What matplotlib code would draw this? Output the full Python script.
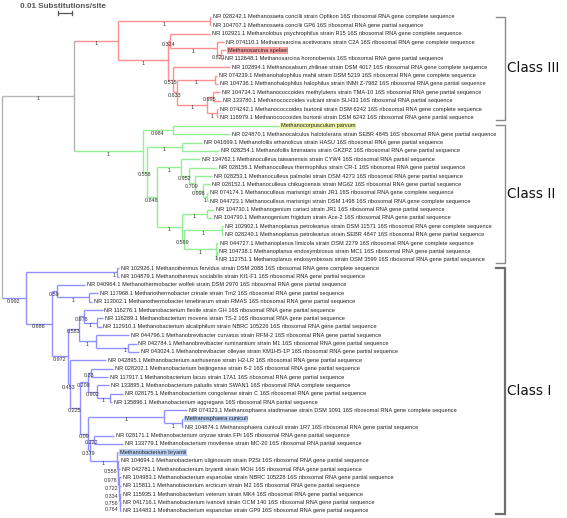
import matplotlib
matplotlib.use("Agg")
import matplotlib.pyplot as plt

# ---------------- data ----------------
# depths are distances from the root in 0.001 substitutions/site
LEAF_LABELS = [
    "NR 028242.1 Methanosaeta concilii strain Opfikon 16S ribosomal RNA gene complete sequence",
    "NR 104707.1 Methanosaeta concilii GP6 16S ribosomal RNA gene partial sequence",
    "NR 102921.1 Methanolobus psychrophilus strain R15 16S ribosomal RNA gene complete sequence",
    "NR 074110.1 Methanosarcina acetivorans strain C2A 16S ribosomal RNA gene complete sequence",
    "Methanosarcina spelaei",
    "NR 112648.1 Methanosarcina horonobensis 16S ribosomal RNA gene partial sequence",
    "NR 102894.1 Methanosalsum zhilinae strain DSM 4017 16S ribosomal RNA gene complete sequence",
    "NR 074239.1 Methanohalophilus mahii strain DSM 5219 16S ribosomal RNA gene complete sequence",
    "NR 104736.1 Methanohalophilus halophilus strain INMI Z-7982 16S ribosomal RNA gene partial sequence",
    "NR 104734.1 Methanococcoides methylutens strain TMA-10 16S ribosomal RNA gene partial sequence",
    "NR 133780.1 Methanococcoides vulcani strain SLH33 16S ribosomal RNA partial sequence",
    "NR 074242.1 Methanococcoides burtonii strain DSM 6242 16S ribosomal RNA gene complete sequence",
    "NR 118979.1 Methanococcoides burtonii strain DSM 6242 16S ribosomal RNA gene partial sequence",
    "Methanocorpusculum parvum",
    "NR 024870.1 Methanocalculus halotolerans strain SEBR 4845 16S ribosomal RNA gene partial sequence",
    "NR 041669.1 Methanofollis ethanolicus strain HASU 16S ribosomal RNA gene partial sequence",
    "NR 028254.1 Methanofollis liminatans strain GKZPZ 16S ribosomal RNA gene partial sequence",
    "NR 134762.1 Methanoculleus taiwanensis strain CYW4 16S ribosomal RNA partial sequence",
    "NR 028156.1 Methanoculleus thermophilus strain CR-1 16S ribosomal RNA gene partial sequence",
    "NR 028253.1 Methanoculleus palmolei strain DSM 4273 16S ribosomal RNA gene partial sequence",
    "NR 028152.1 Methanoculleus chikugoensis strain MG62 16S ribosomal RNA gene partial sequence",
    "NR 074174.1 Methanoculleus marisnigri strain JR1 16S ribosomal RNA gene complete sequence",
    "NR 044723.1 Methanoculleus marisnigri strain DSM 1498 16S ribosomal RNA gene complete sequence",
    "NR 104730.1 Methanogenium cariaci strain JR1 16S ribosomal RNA gene partial sequence",
    "NR 104790.1 Methanogenium frigidum strain Ace-2 16S ribosomal RNA gene partial sequence",
    "NR 102902.1 Methanoplanus petrolearius strain DSM 11571 16S ribosomal RNA gene complete sequence",
    "NR 028240.1 Methanoplanus petrolearius strain SEBR 4847 16S ribosomal RNA gene partial sequence",
    "NR 044727.1 Methanoplanus limicola strain DSM 2279 16S ribosomal RNA gene complete sequence",
    "NR 104738.1 Methanoplanus endosymbiosus strain MC1 16S ribosomal RNA gene partial sequence",
    "NR 112751.1 Methanoplanus endosymbiosus strain DSM 3599 16S ribosomal RNA gene partial sequence",
    "NR 102926.1 Methanothermus fervidus strain DSM 2088 16S ribosomal RNA gene complete sequence",
    "NR 104879.1 Methanothermus sociabilis strain Kf1-F1 16S ribosomal RNA gene partial sequence",
    "NR 040964.1 Methanothermobacter wolfeii strain DSM 2970 16S ribosomal RNA gene partial sequence",
    "NR 117968.1 Methanothermobacter crinale strain Tm2 16S ribosomal RNA gene partial sequence",
    "NR 113002.1 Methanothermobacter tenebrarum strain RMAS 16S ribosomal RNA gene partial sequence",
    "NR 116276.1 Methanobacterium flexile strain GH 16S ribosomal RNA gene partial sequence",
    "NR 116289.1 Methanobacterium movens strain TS-2 16S ribosomal RNA gene partial sequence",
    "NR 112910.1 Methanobacterium alcaliphilum strain NBRC 105226 16S ribosomal RNA gene partial sequence",
    "NR 044796.1 Methanobrevibacter curvatus strain RFM-2 16S ribosomal RNA gene partial sequence",
    "NR 042784.1 Methanobrevibacter ruminantium strain M1 16S ribosomal RNA gene partial sequence",
    "NR 043024.1 Methanobrevibacter olleyae strain KM1H5-1P 16S ribosomal RNA gene partial sequence",
    "NR 042895.1 Methanobacterium aarhusense strain H2-LR 16S ribosomal RNA gene partial sequence",
    "NR 028202.1 Methanobacterium beijingense strain 8-2 16S ribosomal RNA gene partial sequence",
    "NR 117917.1 Methanobacterium lacus strain 17A1 16S ribosomal RNA gene partial sequence",
    "NR 133895.1 Methanobacterium paludis strain SWAN1 16S ribosomal RNA complete sequence",
    "NR 028175.1 Methanobacterium congolense strain C 16S ribosomal RNA gene partial sequence",
    "NR 135896.1 Methanobacterium aggregans 16S ribosomal RNA partial sequence",
    "NR 074323.1 Methanosphaera stadtmanae strain DSM 3091 16S ribosomal RNA gene complete sequence",
    "Methanosphaera cuniculi",
    "NR 104874.1 Methanosphaera cuniculi strain 1R7 16S ribosomal RNA gene partial sequence",
    "NR 028171.1 Methanobacterium oryzae strain FPi 16S ribosomal RNA gene partial sequence",
    "NR 133779.1 Methanobacterium movilense strain MC-20 16S ribosomal RNA partial sequence",
    "Methanobacterium bryantii",
    "NR 104694.1 Methanobacterium uliginosum strain P2St 16S ribosomal RNA gene partial sequence",
    "NR 042781.1 Methanobacterium bryantii strain MOH 16S ribosomal RNA gene partial sequence",
    "NR 104983.1 Methanobacterium espanolae strain NBRC 105228 16S ribosomal RNA gene partial sequence",
    "NR 115811.1 Methanobacterium arcticum strain M2 16S ribosomal RNA gene partial sequence",
    "NR 115935.1 Methanobacterium veterum strain MK4 16S ribosomal RNA gene partial sequence",
    "NR 041716.1 Methanobacterium ivanovii strain OCM 140 16S ribosomal RNA gene partial sequence",
    "NR 114483.1 Methanobacterium espanolae strain GP9 16S ribosomal RNA gene partial sequence",
]

LEAF_PARENT = [
    "S", "S", "E", "F", "F2", "F2", "G", "I", "I", "J1", "J1", "J2", "J2",
    "K", "K", "M", "M", "O", "O1", "O2", "O3", "O4", "O4", "Q", "Q",
    "R1", "R1", "R2", "R3", "R3",
    "T", "T", "U", "U1", "U1", "W1", "W1a", "W1a", "W2", "W2a", "W2a",
    "X", "Y1", "Y1", "Y2", "Y2a", "Y2a", "SP", "SP1", "SP1", "Z3", "Z3",
    "Z4", "Q1", "Q2", "Q3", "Q4", "Q5", "Q6", "Q6",
]

LEAF_DEPTH = [
    149.3, 149.3, 148.6, 158.6, 160.0, 157.9, 162.9, 153.6, 154.3, 155.7,
    156.4, 154.3, 154.3,
    197.9, 162.9, 142.9, 155.0, 141.4, 153.6, 150.0, 148.9, 147.1, 147.1,
    151.4, 150.0, 157.9, 157.9, 154.3, 153.9, 153.9,
    83.6, 83.6, 59.6, 68.6, 64.6, 71.8, 72.1, 71.1, 90.7, 96.1, 97.9,
    74.6, 79.3, 75.4, 76.4, 86.4, 78.6, 132.1, 129.3, 129.3, 80.0, 86.4,
    82.9, 83.6, 84.3, 85.0, 85.0, 85.0, 85.0, 85.0,
]

NODE_IDS = [
    "root", "C", "C3", "S", "D", "E", "F", "F2", "G", "H", "I", "J", "J1", "J2",
    "C2", "K", "L", "M", "N", "O", "O1", "O2", "O3", "O4", "P", "Q", "R",
    "R1", "R2", "R3",
    "A", "T", "B", "U", "U1", "V", "W", "W1", "W1a", "W2", "W2a", "X", "XY",
    "Y", "Y1", "Y2", "Y2a", "Z", "SP", "SP1", "Z2", "Z3", "Z4",
    "Q1", "Q2", "Q3", "Q4", "Q5", "Q6",
]
NODE_PARENT = [
    None, "root", "C", "C3", "C3", "D", "E", "F", "D", "G", "H", "H", "J", "J",
    "C", "C2", "C2", "L", "L", "N", "O", "O1", "O2", "O3", "N", "P", "P",
    "R", "R", "R2",
    "root", "A", "A", "B", "U", "B", "V", "W", "W1", "W", "W2", "V", "X",
    "XY", "Y", "Y", "Y2", "XY", "Z", "SP", "Z", "Z2", "Z2",
    "Z4", "Q1", "Q2", "Q3", "Q4", "Q5",
]
NODE_DEPTH = [
    0.0, 51.4, 82.9, 148.6, 118.6, 120.0, 153.6, 156.4, 122.1, 125.0, 152.1,
    146.4, 150.7, 153.6,
    100.7, 122.1, 103.6, 128.6, 110.7, 127.9, 133.6, 137.9, 143.6, 146.4,
    128.6, 146.4, 130.0, 157.1, 152.9, 153.6,
    17.1, 82.1, 35.7, 39.3, 62.1, 47.1, 55.0, 58.6, 67.9, 67.1, 90.0, 48.6,
    55.7, 61.4, 63.6, 67.9, 77.1, 61.4, 115.7, 128.6, 62.9, 65.7, 82.1,
    82.9, 83.2, 83.6, 83.8, 84.0, 84.2,
]
NODE_SUPPORT = [
    "", "1", "1", "1", "1", "0.324", "1", "0.821", "0.515", "0.633", "1",
    "1", "0.995", "1",
    "1", "0.984", "0.558", "1", "0.848", "1", "0.952", "0.709", "0.996", "1",
    "1", "1", "0.569", "1", "1", "1",
    "0.992", "1", "0.686", "0.59", "1", "0.972", "0.583", "0.978", "1", "1",
    "1", "0.453", "0.225", "0.208", "0.33", "0.902", "1", "0.09", "1", "1",
    "0.379", "0.222", "1",
    "0.558", "0.978", "0.722", "0.334", "0.756", "0.764",
]
NODE_CLASS = (["root", "root"] + ["III"] * 12 + ["II"] * 16 + ["I"] * 29)

HIGHLIGHT_LEAVES = {4: "#f7a3a3", 13: "#eaf2a6", 48: "#b9cff2", 52: "#b9cff2"}

CLASS_NAMES = ["Class III", "Class II", "Class I"]
CLASS_FIRST_LEAF = [0, 13, 30]
CLASS_LAST_LEAF = [12, 29, 59]

SCALE_BAR_LEN = 10.0  # = 0.01 substitutions/site

# ---------------- style ----------------
BRANCH_COLORS = {"root": "#b4b4b4", "III": "#ff8f8f", "II": "#94ee94", "I": "#9090ff"}
LABELS_AT_NODE = {"T", "W2a", "Q1", "Q2", "Q3", "Q4", "Q5", "Q6"}
LEAF_FONT = dict(family=["Liberation Sans", "DejaVu Sans"], fontsize=4.05, color="#222222")
SUP_FONT = dict(family=["Liberation Sans", "DejaVu Sans"], fontsize=3.9, color="#333333")

fig = plt.figure(figsize=(5.67, 5.18), dpi=100)
ax = fig.add_axes([0, 0, 1, 1])
ax.set_axis_off()
PX = 1.4  # pixels per depth unit
ax.set_xlim(-2 / PX, 565 / PX)
ax.set_ylim(59.84, -2.03)

# ---------------- tree layout ----------------
depth = dict(zip(NODE_IDS, NODE_DEPTH))
parent = dict(zip(NODE_IDS, NODE_PARENT))
support = dict(zip(NODE_IDS, NODE_SUPPORT))
ncls = dict(zip(NODE_IDS, NODE_CLASS))
children = {n: [] for n in NODE_IDS}
for n, p in zip(NODE_IDS, NODE_PARENT):
    if p is not None:
        children[p].append(("node", n))
for i, p in enumerate(LEAF_PARENT):
    children[p].append(("leaf", i))

ypos = {}


def node_y(n):
    if n in ypos:
        return ypos[n]
    ys = []
    for kind, c in children[n]:
        ys.append(c if kind == "leaf" else node_y(c))
    ypos[n] = (min(ys) + max(ys)) / 2.0
    return ypos[n]


for n in NODE_IDS:
    node_y(n)

lw = 1.0
for n in NODE_IDS:
    col = BRANCH_COLORS[ncls[n]]
    ys = [c if k == "leaf" else ypos[c] for k, c in children[n]]
    ax.plot([depth[n], depth[n]], [min(ys), max(ys)], color=col, lw=lw,
            solid_capstyle="butt", zorder=2)
    p = parent[n]
    if p is not None:
        ax.plot([depth[p], depth[n]], [ypos[n], ypos[n]], color=col, lw=lw,
                solid_capstyle="butt", zorder=2)
        s = support[n]
        if s:
            if n in LABELS_AT_NODE:
                ax.text(depth[n] - 0.8, ypos[n] + 0.36, s, ha="right",
                        va="center", zorder=4, **SUP_FONT)
            else:
                ax.text((depth[p] + depth[n]) / 2, ypos[n] + 0.36, s,
                        ha="center", va="center", zorder=4, **SUP_FONT)

for i, (lab, p, d) in enumerate(zip(LEAF_LABELS, LEAF_PARENT, LEAF_DEPTH)):
    col = BRANCH_COLORS[ncls[p]]
    ax.plot([depth[p], d], [i, i], color=col, lw=lw, solid_capstyle="butt", zorder=2)
    kw = {}
    if i in HIGHLIGHT_LEAVES:
        kw["bbox"] = dict(boxstyle="square,pad=0.12", fc=HIGHLIGHT_LEAVES[i], ec="none")
    ax.text(d + 1.4, i, lab, ha="left", va="center", zorder=5, **LEAF_FONT, **kw)

# ---------------- class brackets ----------------
bx = 503 / PX
for name, a, b, in zip(CLASS_NAMES, CLASS_FIRST_LEAF, CLASS_LAST_LEAF):
    top, bot = a - 0.05, b + 0.35
    heavy = name == "Class I"
    bc = "#6e6e6e" if heavy else "#8a8a8a"
    blw = 1.6 if heavy else 1.0
    ax.plot([bx - 9 / PX, bx, bx, bx - 9 / PX], [top, top, bot, bot], color=bc,
            lw=blw, solid_joinstyle="miter", zorder=3)
    ax.text(bx + 2.5 / PX, (top + bot) / 2, name, ha="left", va="center",
            fontsize=9.8, family=["DejaVu Sans"], color="#111111")

# ---------------- scale bar and title ----------------
sb_x0 = 40.0
sb_y = -0.48
ax.plot([sb_x0, sb_x0 + SCALE_BAR_LEN], [sb_y, sb_y], color="#555555", lw=0.9)
for xx in (sb_x0, sb_x0 + SCALE_BAR_LEN):
    ax.plot([xx, xx], [sb_y - 0.2, sb_y + 0.2], color="#555555", lw=0.9)
ax.text(18 / PX, -1.2, "0.01 Substitutions/site", ha="left", va="center",
        fontsize=5.8, fontweight="bold", color="#555555",
        family=["Liberation Sans", "DejaVu Sans"])

fig.savefig("out.png", dpi=100)
